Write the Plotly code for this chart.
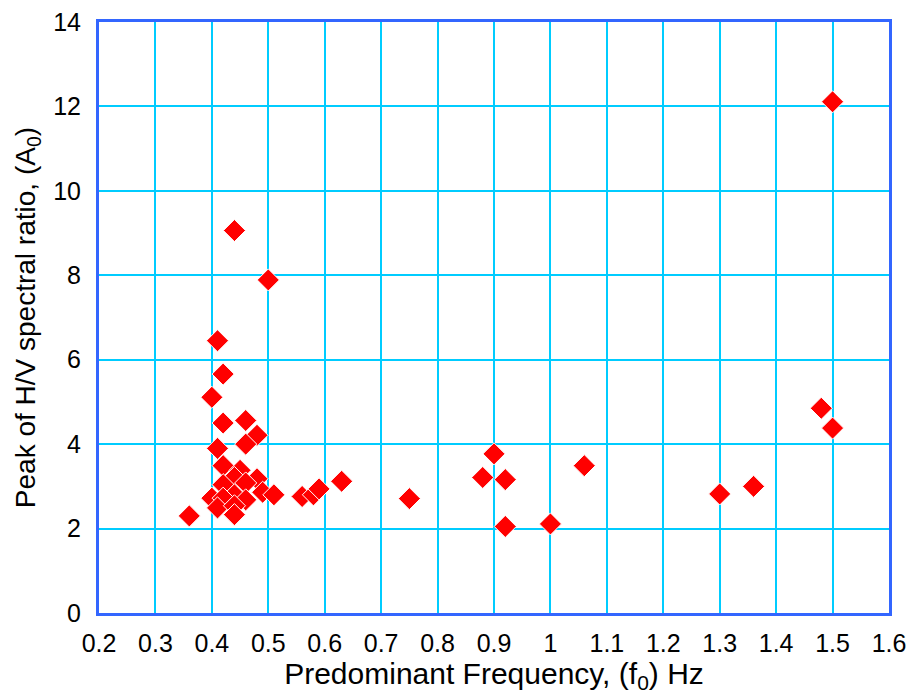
import plotly.graph_objects as go

freq = [0.36, 0.44, 0.50, 0.41, 0.42, 0.40, 0.42, 0.46, 0.48, 0.46, 0.41, 0.42,
        0.45, 0.44, 0.48, 0.42, 0.46, 0.49, 0.44, 0.40, 0.42, 0.46, 0.41, 0.44,
        0.44, 0.51, 0.56, 0.58, 0.59, 0.63, 0.75, 0.88, 0.90, 0.92, 0.92, 1.00,
        1.06, 1.30, 1.36, 1.48, 1.50, 1.50]
peak = [2.30, 9.06, 7.89, 6.45, 5.66, 5.11, 4.50, 4.56, 4.21, 4.00, 3.90, 3.49,
        3.38, 3.21, 3.18, 3.04, 3.08, 2.86, 2.80, 2.72, 2.72, 2.68, 2.49, 2.54,
        2.33, 2.80, 2.76, 2.80, 2.94, 3.12, 2.71, 3.21, 3.77, 3.16, 2.05, 2.11,
        3.49, 2.82, 3.00, 4.85, 4.38, 12.11]

x_ticks = [0.2, 0.3, 0.4, 0.5, 0.6, 0.7, 0.8, 0.9, 1.0, 1.1, 1.2, 1.3, 1.4, 1.5, 1.6]
x_labels = ["0.2", "0.3", "0.4", "0.5", "0.6", "0.7", "0.8", "0.9", "1", "1.1", "1.2", "1.3", "1.4", "1.5", "1.6"]
y_ticks = [0, 2, 4, 6, 8, 10, 12, 14]

fig = go.Figure()
fig.add_trace(go.Scatter(
    x=freq, y=peak, mode="markers",
    marker=dict(symbol="diamond", size=17, color="#FF0000",
                line=dict(color="white", width=1)),
    showlegend=False,
))

font_family = "Liberation Sans, Arial, sans-serif"
fig.update_layout(
    width=913, height=695,
    margin=dict(l=99, r=24, t=22, b=82),
    paper_bgcolor="white", plot_bgcolor="white",
    font=dict(family=font_family, color="black", size=25),
    xaxis=dict(
        range=[0.2, 1.6], tickvals=x_ticks, ticktext=x_labels,
        showgrid=True, gridcolor="#00CCFF", gridwidth=2,
        showline=True, linecolor="#3366FF", linewidth=3, mirror=True,
        zeroline=False, ticks="", ticklabelstandoff=6, automargin=False,
        tickfont=dict(size=25),
        title=dict(text="Predominant Frequency, (f<sub>0</sub>) Hz", font=dict(size=30), standoff=0),
    ),
    yaxis=dict(
        range=[0, 14], tickvals=y_ticks,
        showgrid=True, gridcolor="#00CCFF", gridwidth=2,
        showline=True, linecolor="#3366FF", linewidth=3, mirror=True,
        zeroline=False, ticks="", ticklabelstandoff=10, automargin=False,
        tickfont=dict(size=25),
        title=dict(text="Peak of H/V spectral ratio, (A<sub>0</sub>)", font=dict(size=28), standoff=10),
    ),
)

fig.write_html("out.html")
